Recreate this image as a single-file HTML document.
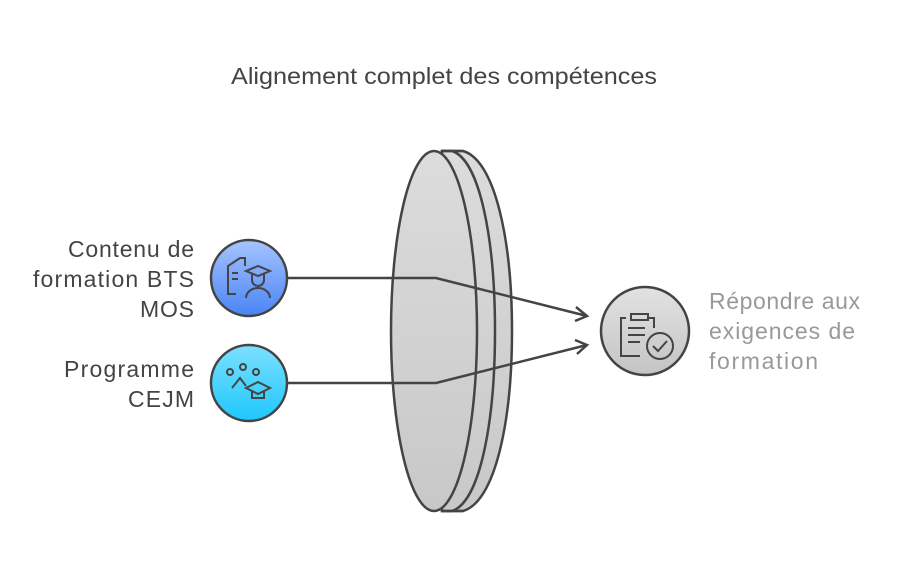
<!DOCTYPE html>
<html><head><meta charset="utf-8"><style>
body{margin:0;background:#fff;width:903px;height:573px;overflow:hidden;font-family:"Liberation Sans",Arial,sans-serif}
</style></head><body>
<svg width="903" height="573" viewBox="0 0 903 573" xmlns="http://www.w3.org/2000/svg">
<defs>
<linearGradient id="lg" x1="0" y1="0" x2="0" y2="1"><stop offset="0" stop-color="#dcdcdc"/><stop offset="1" stop-color="#c8c8c8"/></linearGradient>
<linearGradient id="bg1" x1="0" y1="0" x2="0" y2="1"><stop offset="0" stop-color="#a6c4ff"/><stop offset="1" stop-color="#4a84f5"/></linearGradient>
<linearGradient id="bg2" x1="0" y1="0" x2="0" y2="1"><stop offset="0" stop-color="#7ce0ff"/><stop offset="1" stop-color="#1ec8fc"/></linearGradient>
<linearGradient id="gg" x1="0" y1="0" x2="0" y2="1"><stop offset="0" stop-color="#e2e2e2"/><stop offset="1" stop-color="#c4c4c4"/></linearGradient>
</defs>
<text x="231" y="84" textLength="426" lengthAdjust="spacingAndGlyphs" font-size="23" fill="#444">Alignement complet des compétences</text>
<g stroke="#444" stroke-width="2.5" fill="url(#lg)">
<path d="M463 151 C495 160 512 240 512 331 C512 422 495 502 463 511 L442 511 L442 151 Z"/>
<path d="M452 151 C480 160 495 240 495 331 C495 422 480 502 452 511 L442 511 L442 151 Z"/>
<ellipse cx="434" cy="331" rx="43" ry="180"/>
<line x1="442" y1="151" x2="463" y2="151"/><line x1="442" y1="511" x2="463" y2="511"/>
</g>
<g stroke="#444" stroke-width="2.5" fill="none">
<polyline points="287,278 436,278 587,316"/>
<polyline points="287,383 436,383 587,345"/>
<polyline points="576,307 587,316 575,321"/>
<polyline points="575,340 587,345 577,354"/>
</g>
<circle cx="249" cy="278" r="38" fill="url(#bg1)" stroke="#444" stroke-width="2.5"/>
<circle cx="249" cy="383" r="38" fill="url(#bg2)" stroke="#444" stroke-width="2.5"/>
<circle cx="645" cy="331" r="44" fill="url(#gg)" stroke="#444" stroke-width="2.5"/>
<g stroke="#444" stroke-width="2" fill="none">
<path d="M236 294 L228 294 L228 266 L240 258 L245 258 L245 266"/><line x1="232" y1="273" x2="238" y2="273"/><line x1="232" y1="279" x2="238" y2="279"/>
<path d="M246 271 L258 266 L270 271 L258 276 Z"/><path d="M252 274 V280 A6 6 0 0 0 264 280 V274"/><path d="M246 298 A12 10 0 0 1 270 298"/>
<circle cx="230" cy="372" r="3"/><circle cx="243" cy="367" r="3"/><circle cx="256" cy="372" r="3"/>
<path d="M232 388 L240 378 L246 386"/><path d="M246 388 L258 382 L270 388 L258 394 Z"/><path d="M252 391 V398 H264 V391"/>
<path d="M626 318 H621 V356 H640"/><path d="M631 314 H648 V320 H631 Z"/><path d="M648 318 H654 V328"/>
<line x1="628" y1="328" x2="645" y2="328"/><line x1="628" y1="335" x2="645" y2="335"/><line x1="628" y1="342" x2="640" y2="342"/>
<circle cx="660" cy="346" r="13"/><path d="M653 346 L658 351 L667 341"/>
</g>
<g font-size="23" fill="#444" lengthAdjust="spacingAndGlyphs">
<text x="68" y="257" textLength="126">Contenu de</text><text x="33" y="287" textLength="161">formation BTS</text><text x="140" y="317" textLength="54">MOS</text>
<text x="64" y="377" textLength="130">Programme</text><text x="128" y="407" textLength="66">CEJM</text>
</g>
<g font-size="23" fill="#999">
<text x="709" y="309" textLength="151">Répondre aux</text><text x="709" y="339" textLength="146">exigences de</text><text x="709" y="369" textLength="109">formation</text>
</g>
</svg>
</body></html>
